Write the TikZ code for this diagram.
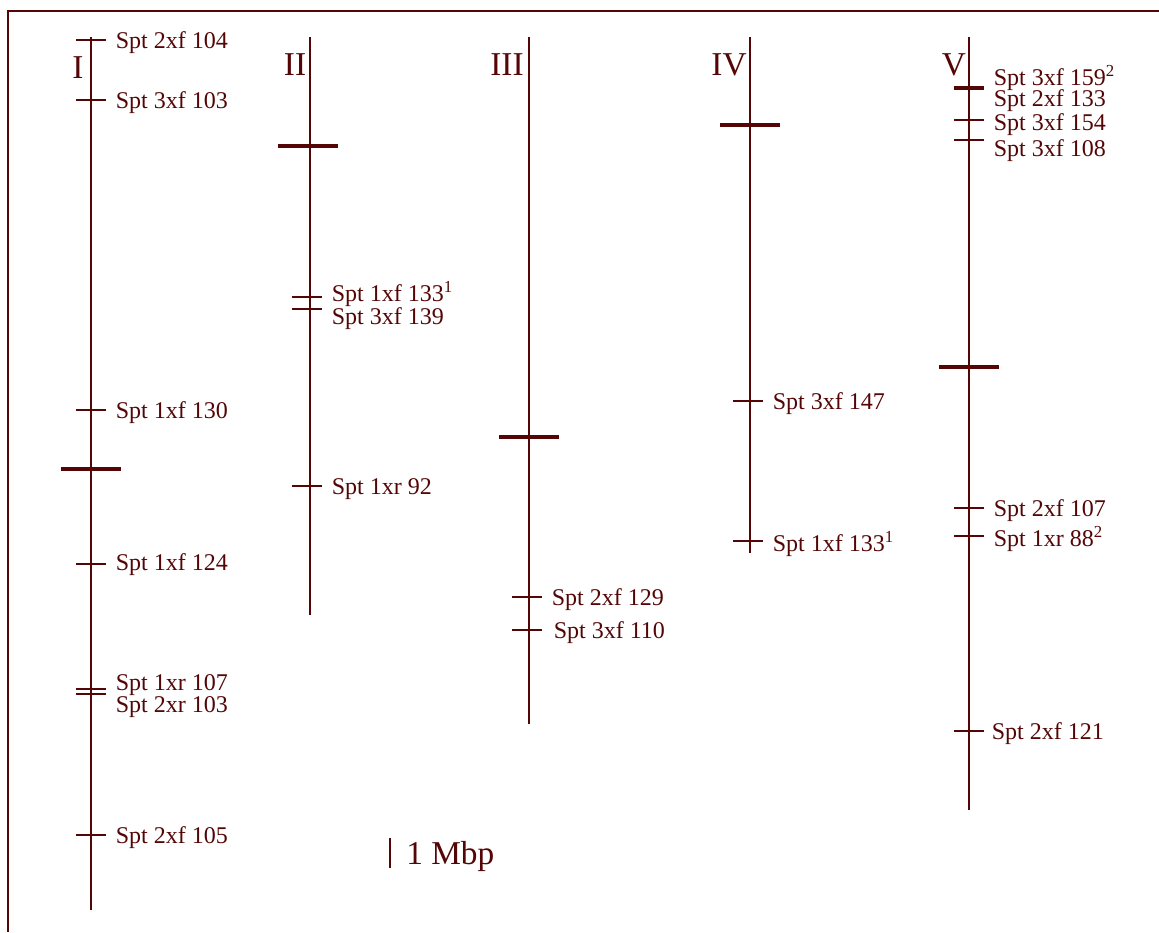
\documentclass[tikz,border=0pt]{standalone}
\usepackage{fontspec}
\setmainfont{Liberation Serif}
\usetikzlibrary{positioning}
\definecolor{chromRed}{RGB}{84,6,6}

\begin{document}
\begin{tikzpicture}[
    x=0.75pt, y=-0.75pt,
    axis/.style={draw=chromRed, line width=1.5pt},
    frameLine/.style={draw=chromRed, line width=1.5pt},
    tNode/.style={rectangle, fill=chromRed, inner sep=0pt, minimum width=22.5pt, minimum height=1.3pt},
    tkNode/.style={tNode, minimum height=3.6pt},
    cenNode/.style={rectangle, fill=chromRed, inner sep=0pt, minimum width=45pt, minimum height=3.6pt},
    lNode/.style={inner sep=0pt, text=chromRed, font=\fontsize{18}{20}\selectfont, yshift=-2.25pt},
    numNode/.style={inner sep=0pt, text=chromRed, font=\fontsize{25}{28}\selectfont},
    node distance=7pt
]
    \useasboundingbox (0,0) rectangle (1159,932);
    \path[frameLine] (8,932) -- (8,11) -- (1159,11);

    % chromosome I
    \coordinate (I1) at (91,37);
    \coordinate (I2) at (91,910);
    \path[axis] (I1) -- (I2);
    \node[numNode] (NI) at (78,68) {I};
    \node[tNode] (TI1) at (91,40) {};
    \node[tNode] (TI2) at (91,100) {};
    \node[tNode] (TI3) at (91,410) {};
    \node[cenNode] (CI) at (91,469) {};
    \node[tNode] (TI4) at (91,564) {};
    \node[tNode] (TI5) at (91,689) {};
    \node[tNode] (TI6) at (91,694) {};
    \node[tNode] (TI7) at (91,835) {};
    \node[lNode, right=of TI1] (LI1) {Spt 2xf 104};
    \node[lNode, right=of TI2] (LI2) {Spt 3xf 103};
    \node[lNode, right=of TI3] (LI3) {Spt 1xf 130};
    \node[lNode, right=of TI4, yshift=1.5pt] (LI4) {Spt 1xf 124};
    \node[lNode, right=of TI5, yshift=5.25pt] (LI5) {Spt 1xr 107};
    \node[lNode, right=of TI6, yshift=-7.5pt] (LI6) {Spt 2xr 103};
    \node[lNode, right=of TI7] (LI7) {Spt 2xf 105};

    % chromosome II
    \coordinate (II1) at (310,37);
    \coordinate (II2) at (310,615);
    \path[axis] (II1) -- (II2);
    \node[numNode] (NII) at (295,65) {II};
    \node[cenNode] (CII) at (308,146) {};
    \node[tNode] (TII1) at (307,297) {};
    \node[tNode] (TII2) at (307,309) {};
    \node[tNode] (TII3) at (307,486) {};
    \node[lNode, right=of TII1, yshift=4.5pt] (LII1) {Spt 1xf 133\textsuperscript{1}};
    \node[lNode, right=of TII2, yshift=-5.25pt] (LII2) {Spt 3xf 139};
    \node[lNode, right=of TII3] (LII3) {Spt 1xr 92};

    % chromosome III
    \coordinate (III1) at (529,37);
    \coordinate (III2) at (529,724);
    \path[axis] (III1) -- (III2);
    \node[numNode] (NIII) at (507,65) {III};
    \node[cenNode] (CIII) at (529,437) {};
    \node[tNode] (TIII1) at (527,597) {};
    \node[tNode] (TIII2) at (527,630) {};
    \node[lNode, right=of TIII1] (LIII1) {Spt 2xf 129};
    \node[lNode, right=of TIII2, xshift=1.5pt] (LIII2) {Spt 3xf 110};

    % chromosome IV
    \coordinate (IV1) at (750,37);
    \coordinate (IV2) at (750,553);
    \path[axis] (IV1) -- (IV2);
    \node[numNode] (NIV) at (729,65) {IV};
    \node[cenNode] (CIV) at (750,125) {};
    \node[tNode] (TIV1) at (748,401) {};
    \node[tNode] (TIV2) at (748,541) {};
    \node[lNode, right=of TIV1] (LIV1) {Spt 3xf 147};
    \node[lNode, right=of TIV2] (LIV2) {Spt 1xf 133\textsuperscript{1}};

    % chromosome V
    \coordinate (V1) at (969,37);
    \coordinate (V2) at (969,810);
    \path[axis] (V1) -- (V2);
    \node[numNode] (NV) at (954,65) {V};
    \node[tkNode] (TV1) at (969,88) {};
    \node[tNode] (TV2) at (969,120) {};
    \node[tNode] (TV3) at (969,140) {};
    \node[cenNode] (CV) at (969,367) {};
    \node[tNode] (TV4) at (969,508) {};
    \node[tNode] (TV5) at (969,536) {};
    \node[tNode] (TV6) at (969,731) {};
    \node[lNode, right=of TV1, yshift=9.75pt] (LV1) {Spt 3xf 159\textsuperscript{2}};
    \node[lNode, right=of TV1, yshift=-7.5pt] (LV2) {Spt 2xf 133};
    \node[lNode, right=of TV2, yshift=-1.5pt] (LV3) {Spt 3xf 154};
    \node[lNode, right=of TV3, yshift=-6pt] (LV4) {Spt 3xf 108};
    \node[lNode, right=of TV4] (LV5) {Spt 2xf 107};
    \node[lNode, right=of TV5] (LV6) {Spt 1xr 88\textsuperscript{2}};
    \node[lNode, right=of TV6, xshift=-1.5pt] (LV7) {Spt 2xf 121};

    % scale bar
    \coordinate (S1) at (390,838);
    \coordinate (S2) at (390,868);
    \draw[chromRed, line width=1.2pt] (S1) -- (S2);
    \node[numNode, anchor=west] (SL) at (406,856) {1 Mbp};
\end{tikzpicture}
\end{document}
